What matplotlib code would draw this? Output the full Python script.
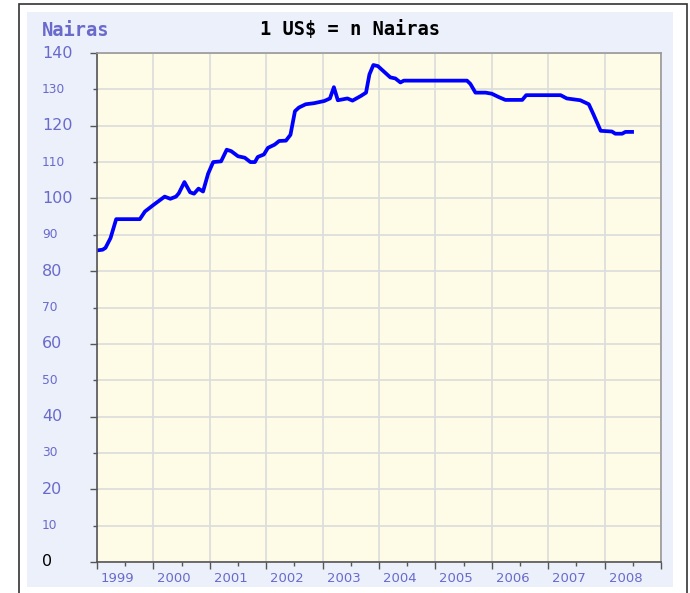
import matplotlib
matplotlib.use('Agg')
from matplotlib import pyplot as plt
from matplotlib.patches import Rectangle
from matplotlib.transforms import blended_transform_factory

# exchange rate, decimal year -> nairas per US$
years = [1999.00, 1999.10, 1999.15, 1999.24, 1999.34, 1999.76, 1999.85, 2000.00,
         2000.20, 2000.30, 2000.40, 2000.45, 2000.55, 2000.65, 2000.72, 2000.80,
         2000.88, 2000.97, 2001.06, 2001.20, 2001.30, 2001.38, 2001.50, 2001.62,
         2001.72, 2001.80, 2001.85, 2001.96, 2002.03, 2002.15, 2002.23, 2002.35,
         2002.43, 2002.51, 2002.58, 2002.70, 2002.85, 2003.03, 2003.13, 2003.20,
         2003.27, 2003.44, 2003.53, 2003.68, 2003.77, 2003.83, 2003.90, 2003.98,
         2004.20, 2004.29, 2004.38, 2004.44, 2005.56, 2005.62, 2005.71, 2005.89,
         2006.00, 2006.12, 2006.24, 2006.54, 2006.61, 2007.22, 2007.33, 2007.57,
         2007.72, 2007.80, 2007.93, 2008.13, 2008.19, 2008.31, 2008.37, 2008.52]
rate = [85.7, 85.9, 86.4, 89.1, 94.3, 94.3, 96.4, 98.2,
        100.5, 99.9, 100.5, 101.4, 104.5, 101.7, 101.3, 102.7,
        101.9, 106.8, 110.0, 110.2, 113.4, 113.0, 111.6, 111.2,
        110.0, 110.0, 111.4, 112.1, 113.9, 114.8, 115.8, 115.9,
        117.5, 124.0, 125.0, 125.9, 126.2, 126.8, 127.5, 130.6,
        127.0, 127.5, 126.9, 128.2, 129.1, 134.1, 136.7, 136.4,
        133.3, 133.0, 131.9, 132.4, 132.4, 131.5, 129.1, 129.1,
        128.8, 127.9, 127.1, 127.1, 128.4, 128.4, 127.5, 127.0,
        125.9, 123.2, 118.6, 118.4, 117.8, 117.8, 118.3, 118.3]

year_labels = ['1999', '2000', '2001', '2002', '2003', '2004', '2005', '2006', '2007', '2008']
y_values = list(range(0, 150, 10))

W, H = 690, 593
fig = plt.figure(figsize=(W / 100, H / 100), dpi=100, facecolor='white')

# outer black frame and light blue panel (behind the axes)
fig.patches.append(Rectangle((19 / W, -0.05), 668 / W, 1 - 4 / H + 0.05, transform=fig.transFigure,
                             fill=False, edgecolor='#333333', linewidth=1.2, zorder=-10))
fig.patches.append(Rectangle((27 / W, 1 - 587 / H), 646 / W, 575 / H, transform=fig.transFigure,
                             facecolor='#ebf0fa', edgecolor='none', zorder=-10))

ax = fig.add_axes([97 / W, 1 - 562 / H, (661 - 97) / W, (562 - 53) / H])
ax.set_facecolor('#fefce6')
ax.plot(years, rate, color='#0000ff', linewidth=2.7, solid_capstyle='butt')

ax.set_xlim(1999, 2009)
ax.set_ylim(0, 140)
ax.set_xticks(range(1999, 2010))
ax.set_xticks([y + 0.5 for y in range(1999, 2009)], minor=True)
ax.set_yticks(range(0, 150, 20))
ax.set_yticks(range(10, 140, 20), minor=True)
ax.set_xticklabels([])
ax.set_yticklabels([])
ax.tick_params(which='major', direction='out', length=5, color='#555555', width=1)
ax.tick_params(which='minor', direction='out', length=3, color='#555555', width=1)
ax.grid(True, which='major', color='#dddddd', linewidth=1.3)
ax.grid(True, which='minor', axis='y', color='#dddddd', linewidth=1.3)
ax.set_axisbelow(True)
for s in ['left', 'bottom']:
    ax.spines[s].set_color('#555555')
    ax.spines[s].set_linewidth(1.2)
for s in ['top', 'right']:
    ax.spines[s].set_color('#999999')
    ax.spines[s].set_linewidth(1.2)

# y labels: alternating big / small, left aligned
ytr = blended_transform_factory(fig.transFigure, ax.transData)
for v in y_values:
    big = (v % 20 == 0)
    ax.text(42 / W, v, str(v), transform=ytr, ha='left', va='center',
            fontsize=11.5 if big else 8.8, color='black' if v == 0 else '#6a6acc',
            family='DejaVu Sans')

# year labels
xtr = blended_transform_factory(ax.transData, fig.transFigure)
for i, lab in enumerate(year_labels):
    ax.text(1999 + i + 0.37, 1 - 578 / H, lab, transform=xtr, ha='center', va='center',
            fontsize=9.5, color='#6a6acc', family='DejaVu Sans')

fig.text(42 / W, 1 - 30 / H, 'Nairas', ha='left', va='center', fontsize=13.5,
         fontweight='bold', color='#6a6acc', family='DejaVu Sans Mono')
fig.text(350 / W, 1 - 30 / H, '1 US$ = n Nairas', ha='center', va='center', fontsize=13.5,
         fontweight='bold', color='black', family='DejaVu Sans Mono')

fig.savefig('out.png', dpi=100, facecolor='white')
